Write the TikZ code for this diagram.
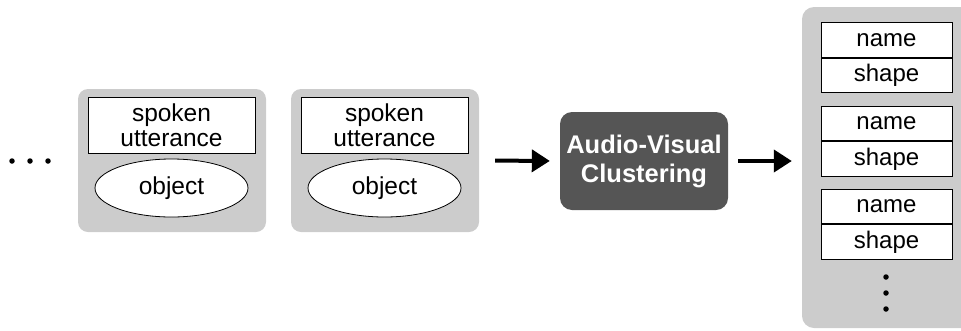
\documentclass[tikz,border=0pt]{standalone}
\usepackage{fontspec}
\setmainfont{Liberation Sans}
\usetikzlibrary{shapes.geometric,arrows.meta}
\definecolor{panelgray}{HTML}{CCCCCC}
\definecolor{darkbox}{HTML}{555555}
\tikzset{
  panel/.style={fill=panelgray, draw=none, rounded corners=10pt, inner sep=0pt},
  textbox/.style={draw=black, fill=white, line width=0.8pt, inner sep=0pt,
    align=center, font=\fontsize{24.5}{24.5}\selectfont},
  objell/.style={ellipse, draw=black, fill=white, line width=0.8pt, inner sep=0pt,
    font=\fontsize{24.5}{24}\selectfont},
  cell/.style={draw=black, fill=white, line width=0.8pt, inner sep=0pt,
    minimum width=131pt, minimum height=34.5pt, font=\fontsize{24}{24}\selectfont},
  procbox/.style={fill=darkbox, draw=none, rounded corners=12pt, inner sep=0pt,
    text=white, align=center, font=\fontsize{25.5}{29}\selectfont\bfseries},
  flow/.style={line width=4pt, -{Triangle[length=18pt,width=22pt]}},
  dot/.style={circle, fill=black, inner sep=0pt, minimum size=5.5pt},
}
\begin{document}
\begin{tikzpicture}[x=1pt, y=-1pt]
\useasboundingbox (0,0) rectangle (961,330);

% leading ellipsis
\node[dot] (l1) at (12,161) {};
\node[dot] (l2) at (30,161) {};
\node[dot] (l3) at (48,161) {};

% first observation
\node[panel, minimum width=188pt, minimum height=143pt] (p1) at (172,160.5) {};
\node[textbox, minimum width=167pt, minimum height=56pt] (u1) at (171.5,125) {spoken\\utterance};
\node[objell, minimum width=153pt, minimum height=58pt] (o1) at (171.5,188) {object};

% second observation
\node[panel, minimum width=188pt, minimum height=143pt] (p2) at (385,160.5) {};
\node[textbox, minimum width=167pt, minimum height=56pt] (u2) at (384.5,125) {spoken\\utterance};
\node[objell, minimum width=153pt, minimum height=58pt] (o2) at (384.5,188) {object};

% clustering step
\node[procbox, minimum width=168pt, minimum height=98pt] (av) at (644,161) {Audio-Visual\\Clustering};

% resulting lexicon
\node[panel, rounded corners=12pt, minimum width=176pt, minimum height=321pt] (lex) at (890,167.5) {};
\node[cell] (n1) at (886.5,40) {name};
\node[cell, anchor=north] (s1) at (n1.south) {shape};
\node[cell] (n2) at (886.5,123.5) {name};
\node[cell, anchor=north] (s2) at (n2.south) {shape};
\node[cell] (n3) at (886.5,206.5) {name};
\node[cell, anchor=north] (s3) at (n3.south) {shape};
\node[dot] (r1) at (886,277) {};
\node[dot] (r2) at (886,293) {};
\node[dot] (r3) at (886,309) {};

% arrows
\draw[flow, shorten <=16pt, shorten >=10pt] (p2.east) -- (av.west);
\draw[flow, shorten <=10pt, shorten >=10pt] (av.east) -- (lex.west |- av.east);
\end{tikzpicture}
\end{document}
